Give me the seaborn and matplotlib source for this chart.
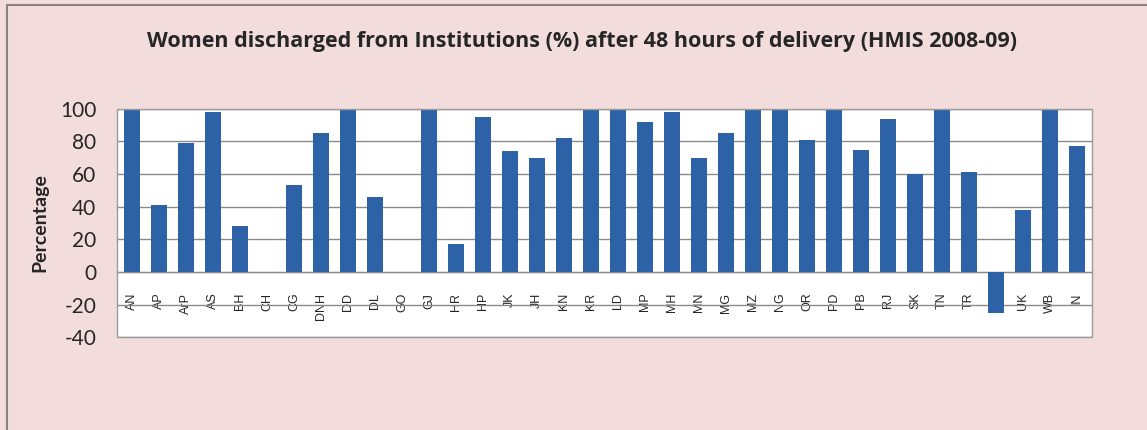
import matplotlib
matplotlib.use("Agg")
import matplotlib.pyplot as plt
import seaborn as sns
import pandas as pd
from matplotlib.patches import Rectangle
from matplotlib.lines import Line2D

# States / UTs and the share of women discharged after 48 hours
states = ["AN", "AP", "ArP", "AS", "BH", "CH", "CG", "DNH", "DD", "DL", "GO", "GJ",
          "HR", "HP", "JK", "JH", "KN", "KR", "LD", "MP", "MH", "MN", "MG", "MZ",
          "NG", "OR", "PD", "PB", "RJ", "SK", "TN", "TR", "UP", "UK", "WB", "IN"]
percent = [100, 41, 79, 98, 28, 0, 53, 85, 100, 46, 0, 100,
           17, 95, 74, 70, 82, 100, 100, 92, 98, 70, 85, 100,
           99, 81, 100, 75, 94, 60, 100, 61, -25, 38, 100, 77]
y_ticks = [100, 80, 60, 40, 20, 0, -20, -40]

df = pd.DataFrame({"state": states, "percent": percent})

sns.set_style("white")
plt.rcParams["font.family"] = ["Lato", "DejaVu Sans"]

bg = "#f3dcdc"
fig = plt.figure(figsize=(11.47, 4.3), dpi=100, facecolor=bg)
ax = fig.add_axes([0.102, 0.216, 0.850, 0.531])
ax.set_facecolor("white")

sns.barplot(data=df, x="state", y="percent", color="#2d62a6", width=0.58,
            saturation=1, linewidth=0, ax=ax, zorder=3)

ax.set_ylim(-40, 100)
ax.set_xlim(-0.55, len(states) - 0.45)
ax.set_yticks(y_ticks)
ax.set_yticklabels([str(t) for t in y_ticks], fontsize=15)
ax.tick_params(axis="y", length=0, pad=15)
ax.yaxis.grid(True, color="#8a8a8a", linewidth=1.0, zorder=1)
ax.set_axisbelow(True)

# category axis crosses at zero, like the original
for s in ["top", "right", "left"]:
    ax.spines[s].set_visible(False)
ax.spines["bottom"].set_position(("data", 0))
ax.spines["bottom"].set_color("#8a8a8a")
ax.tick_params(axis="x", length=0, pad=15)
plt.setp(ax.get_xticklabels(), rotation=90, fontsize=9,
         family=["Liberation Sans", "DejaVu Sans"], va="top", ha="center")
ax.add_patch(Rectangle((0, 0), 1, 1, transform=ax.transAxes, fill=False,
                       edgecolor="#9a9a9a", linewidth=1.0, zorder=5, clip_on=False))

ax.set_xlabel("")
ax.set_ylabel("Percentage", fontsize=14, fontweight="bold", labelpad=8)

fig.text(0.507, 0.903,
         "Women discharged from Institutions (%) after 48 hours of delivery (HMIS 2008-09)",
         ha="center", va="center", fontsize=15.5, fontweight="bold",
         family=["Open Sans", "DejaVu Sans"])

# chart-area border (top and left visible in the crop)
fig.add_artist(Line2D([0.006, 1.0], [0.988, 0.988], color="#8c8080", linewidth=1.5))
fig.add_artist(Line2D([0.006, 0.006], [0.0, 0.988], color="#8c8080", linewidth=1.5))

plt.savefig("out.png", dpi=100, facecolor=bg)
